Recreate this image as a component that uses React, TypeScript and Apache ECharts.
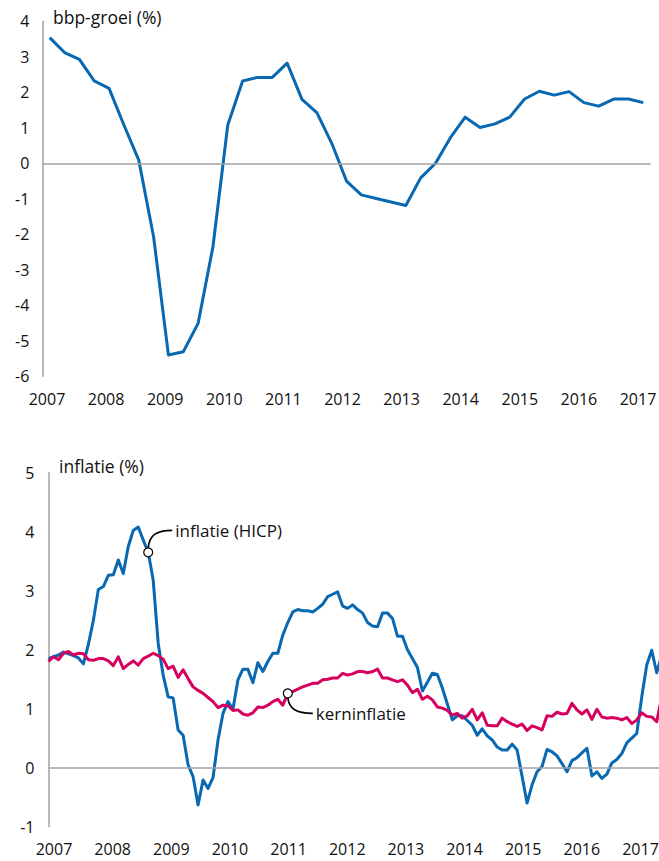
import React, { useEffect, useRef } from "react";
import * as echarts from "echarts";

// ---- data ----
const years = ["2007", "2008", "2009", "2010", "2011", "2012", "2013", "2014", "2015", "2016", "2017"];

// bbp-groei (%), quarterly, 2007Q1 .. 2017Q1
const gdpGrowth = [
  3.54, 3.12, 2.93, 2.32,
  2.11, 1.08, 0.09, -2.07,
  -5.40, -5.31, -4.51, -2.35,
  1.08, 2.32, 2.42, 2.42,
  2.82, 1.80, 1.43, 0.57,
  -0.50, -0.89, -0.99, -1.09,
  -1.19, -0.41, 0.00, 0.72,
  1.30, 1.01, 1.11, 1.30,
  1.81, 2.03, 1.92, 2.02,
  1.71, 1.61, 1.81, 1.81,
  1.71,
];

// inflatie (HICP), monthly, 2007-01 .. 2017-04
const hicp = [
  1.85, 1.88, 1.91, 1.96, 1.93, 1.90, 1.86, 1.76, 2.09, 2.50, 3.02, 3.07,
  3.26, 3.27, 3.52, 3.29, 3.75, 4.02, 4.08, 3.86, 3.65, 3.18, 2.11, 1.57,
  1.20, 1.18, 0.64, 0.55, 0.05, -0.15, -0.63, -0.21, -0.35, -0.17, 0.47, 0.92,
  1.12, 0.99, 1.49, 1.67, 1.67, 1.44, 1.78, 1.63, 1.80, 1.94, 1.94, 2.25,
  2.46, 2.64, 2.68, 2.66, 2.66, 2.64, 2.70, 2.77, 2.90, 2.94, 2.98, 2.74,
  2.70, 2.76, 2.68, 2.62, 2.46, 2.40, 2.39, 2.62, 2.62, 2.53, 2.23, 2.23,
  2.00, 1.85, 1.70, 1.30, 1.45, 1.60, 1.58, 1.35, 1.08, 0.81, 0.88, 0.88,
  0.80, 0.72, 0.55, 0.66, 0.54, 0.47, 0.35, 0.30, 0.30, 0.40, 0.30, -0.15,
  -0.60, -0.29, -0.07, 0.02, 0.31, 0.27, 0.20, 0.07, -0.07, 0.12, 0.17, 0.25,
  0.33, -0.14, -0.07, -0.18, -0.11, 0.08, 0.14, 0.24, 0.42, 0.50, 0.58, 1.20,
  1.74, 1.99, 1.61, 1.90,
];

// kerninflatie, monthly, 2007-01 .. 2017-04
const coreInflation = [
  1.80, 1.88, 1.83, 1.94, 1.97, 1.91, 1.94, 1.93, 1.83, 1.82, 1.85, 1.85,
  1.81, 1.73, 1.88, 1.68, 1.75, 1.81, 1.74, 1.85, 1.89, 1.94, 1.90, 1.84,
  1.68, 1.72, 1.53, 1.66, 1.51, 1.37, 1.31, 1.26, 1.19, 1.12, 1.02, 1.06,
  1.05, 0.97, 0.98, 0.91, 0.89, 0.93, 1.03, 1.02, 1.06, 1.12, 1.16, 1.06,
  1.26, 1.29, 1.33, 1.37, 1.40, 1.43, 1.43, 1.49, 1.50, 1.52, 1.52, 1.60,
  1.57, 1.59, 1.63, 1.63, 1.61, 1.63, 1.67, 1.52, 1.52, 1.49, 1.46, 1.49,
  1.40, 1.27, 1.33, 1.16, 1.21, 1.15, 1.03, 1.01, 0.97, 0.89, 0.92, 0.84,
  0.88, 0.99, 0.81, 0.93, 0.72, 0.71, 0.71, 0.84, 0.78, 0.74, 0.70, 0.74,
  0.63, 0.71, 0.68, 0.64, 0.88, 0.87, 0.94, 0.91, 0.92, 1.09, 0.98, 0.91,
  0.98, 0.82, 0.99, 0.86, 0.84, 0.85, 0.84, 0.81, 0.85, 0.75, 0.81, 0.93,
  0.87, 0.86, 0.78, 1.20,
];

const gdpTitle = "bbp-groei (%)";
const inflTitle = "inflatie (%)";
const hicpLabel = "inflatie (HICP)";
const coreLabel = "kerninflatie";
const hicpMarkerIndex = 20; // sep 2008
const coreMarkerIndex = 48; // jan 2011

// categories
const quarterCats: string[] = [];
years.forEach((y) => [1, 2, 3, 4].forEach((q) => quarterCats.push(`${y}-Q${q}`)));
quarterCats.length = gdpGrowth.length;
const monthCats: string[] = [];
years.forEach((y) => {
  for (let m = 1; m <= 12; m++) monthCats.push(`${y}-${m < 10 ? "0" + m : m}`);
});
monthCats.length = hicp.length;
const firstYear = Number(years[0]);
const lastYear = Number(years[years.length - 1]);

const FONT = '"Open Sans", "Noto Sans", sans-serif';
const BLUE = "#0868b2";
const PINK = "#d6005e";
const GREY = "#a3a3a3";
const TEXT = "#111111";

export default function App() {
  const ref = useRef<HTMLDivElement>(null);

  useEffect(() => {
    const chart = echarts.init(ref.current!, null, { renderer: "svg" });

    const yAxisCommon = {
      type: "value" as const,
      interval: 1,
      axisLine: { show: true, lineStyle: { color: GREY, width: 1.5 } },
      axisTick: { show: false },
      splitLine: { show: false },
      axisLabel: { color: TEXT, fontSize: 16, fontFamily: FONT },
    };
    const xAxisCommon = {
      type: "category" as const,
      axisLine: { show: false },
      axisTick: { show: false },
      splitLine: { show: false },
      axisLabel: { show: false },
    };
    const yearAxis = (gridIndex: number, margin: number) => ({
      type: "value" as const,
      gridIndex,
      min: firstYear,
      max: lastYear,
      interval: 1,
      axisLine: { show: false },
      axisTick: { show: false },
      splitLine: { show: false },
      axisLabel: {
        color: TEXT,
        fontSize: 16,
        fontFamily: FONT,
        margin,
        formatter: (v: number) => String(v),
      },
    });
    const zeroLine = {
      silent: true,
      symbol: ["none", "none"],
      label: { show: false },
      lineStyle: { color: GREY, width: 1.5, type: "solid" },
      emphasis: { disabled: true },
      data: [{ yAxis: 0 }],
    };
    const g = { outerBoundsMode: "none", containLabel: false };

    chart.setOption({
      animation: false,
      grid: [
        { ...g, left: 42.3, right: 8.3, top: 21.3, height: 355 },
        { ...g, left: 48.5, right: -2.7, top: 472.7, height: 354 },
        { ...g, left: 47, right: 21, top: 21.3, height: 355 },
        { ...g, left: 54, right: 18.5, top: 472.7, height: 354 },
      ],
      xAxis: [
        { ...xAxisCommon, gridIndex: 0, data: quarterCats, boundaryGap: true },
        { ...xAxisCommon, gridIndex: 1, data: monthCats, boundaryGap: false },
        yearAxis(2, 15),
        yearAxis(3, 14),
      ],
      yAxis: [
        { ...yAxisCommon, gridIndex: 0, min: -6, max: 4, axisLabel: { ...yAxisCommon.axisLabel, margin: 13 } },
        { ...yAxisCommon, gridIndex: 1, min: -1, max: 5, axisLabel: { ...yAxisCommon.axisLabel, margin: 14 } },
        { type: "value", gridIndex: 2, show: false },
        { type: "value", gridIndex: 3, show: false },
      ],
      series: [
        {
          type: "line",
          xAxisIndex: 0,
          yAxisIndex: 0,
          data: gdpGrowth,
          showSymbol: false,
          lineStyle: { color: BLUE, width: 3, join: "round" },
          itemStyle: { color: BLUE },
          markLine: zeroLine,
        },
        {
          type: "line",
          xAxisIndex: 1,
          yAxisIndex: 1,
          data: hicp,
          showSymbol: false,
          lineStyle: { color: BLUE, width: 3, join: "round" },
          itemStyle: { color: BLUE },
          markLine: zeroLine,
        },
        {
          type: "line",
          xAxisIndex: 1,
          yAxisIndex: 1,
          data: coreInflation,
          showSymbol: false,
          lineStyle: { color: PINK, width: 3, join: "round" },
          itemStyle: { color: PINK },
        },
      ],
    });

    const ph = chart.convertToPixel({ xAxisIndex: 1, yAxisIndex: 1 }, [
      monthCats[hicpMarkerIndex],
      hicp[hicpMarkerIndex],
    ]) as number[];
    const pc = chart.convertToPixel({ xAxisIndex: 1, yAxisIndex: 1 }, [
      monthCats[coreMarkerIndex],
      coreInflation[coreMarkerIndex],
    ]) as number[];

    const textStyle = (text: string, size = 17) => ({
      text,
      fill: TEXT,
      font: `${size}px ${FONT}`,
      align: "left",
      verticalAlign: "middle",
    });

    chart.setOption({
      graphic: [
        { type: "text", x: 53, y: 17, z: 100, style: textStyle(gdpTitle, 17.5) },
        { type: "text", x: 59, y: 466, z: 100, style: textStyle(inflTitle, 17.5) },
        {
          type: "bezierCurve",
          z: 100,
          shape: {
            x1: ph[0],
            y1: ph[1] - 4,
            cpx1: ph[0] + 1,
            cpy1: ph[1] - 17,
            cpx2: ph[0] + 8,
            cpy2: ph[1] - 22,
            x2: ph[0] + 24,
            y2: ph[1] - 22,
          },
          style: { stroke: "#000", lineWidth: 1.6, fill: null },
        },
        { type: "text", x: ph[0] + 27, y: ph[1] - 22, z: 100, style: textStyle(hicpLabel) },
        {
          type: "circle",
          z: 101,
          shape: { cx: ph[0], cy: ph[1], r: 4.5 },
          style: { fill: "#fff", stroke: "#000", lineWidth: 1.2 },
        },
        {
          type: "bezierCurve",
          z: 100,
          shape: {
            x1: pc[0],
            y1: pc[1] + 4,
            cpx1: pc[0] + 1,
            cpy1: pc[1] + 15,
            cpx2: pc[0] + 8,
            cpy2: pc[1] + 20,
            x2: pc[0] + 25,
            y2: pc[1] + 20,
          },
          style: { stroke: "#000", lineWidth: 1.6, fill: null },
        },
        { type: "text", x: pc[0] + 28, y: pc[1] + 20, z: 100, style: textStyle(coreLabel) },
        {
          type: "circle",
          z: 101,
          shape: { cx: pc[0], cy: pc[1], r: 4.5 },
          style: { fill: "#fff", stroke: "#000", lineWidth: 1.2 },
        },
      ],
    });

    return () => chart.dispose();
  }, []);

  return (
    <div
      ref={ref}
      style={{ position: "fixed", left: 0, top: 0, width: 659, height: 861, background: "#fff" }}
    />
  );
}
